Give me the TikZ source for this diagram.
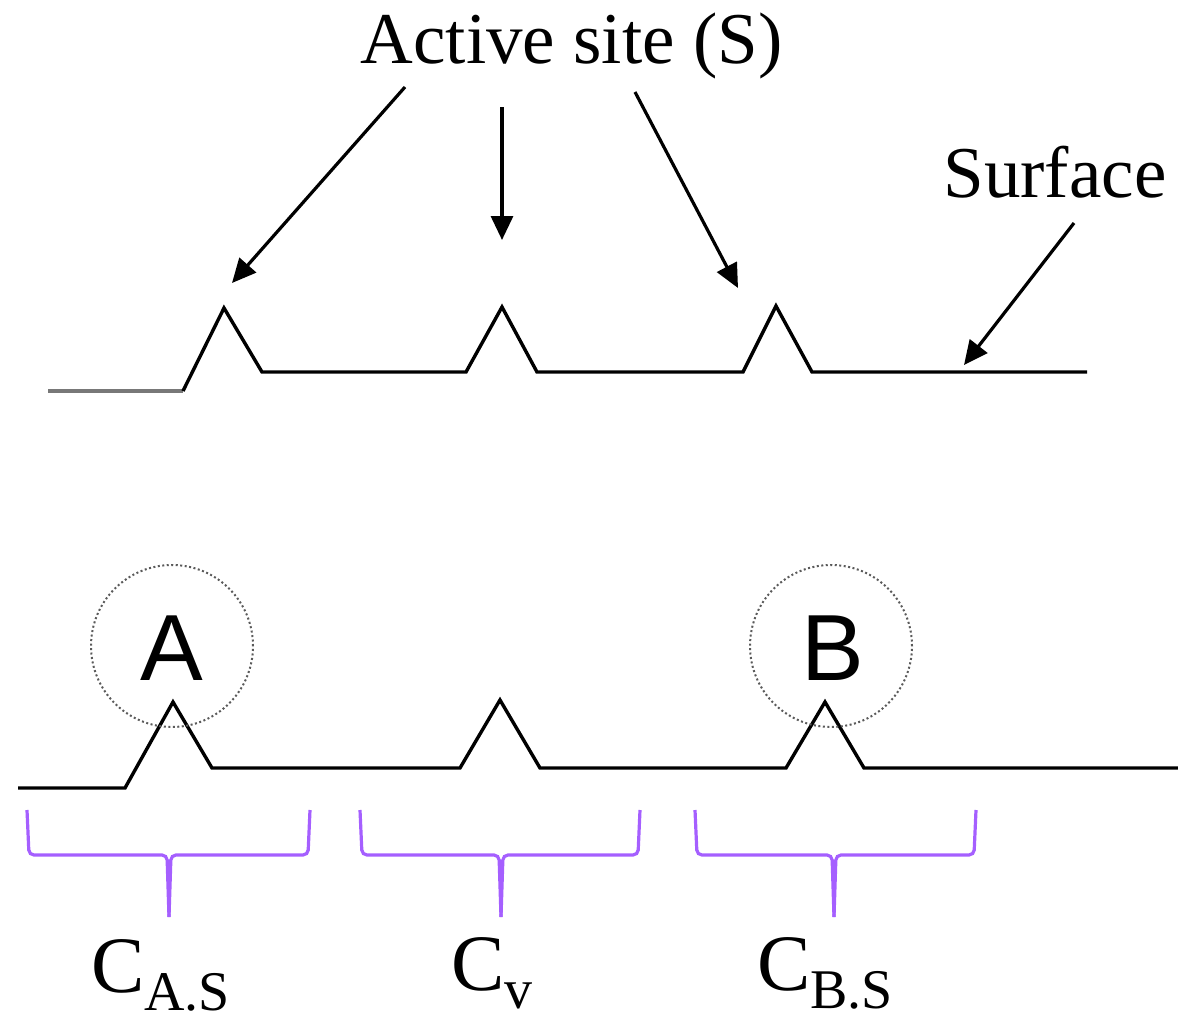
\documentclass[tikz,border=0pt]{standalone}
\usepackage{fontspec}
\setmainfont{Liberation Serif}
\newfontfamily\arialfont{Liberation Sans}
\usetikzlibrary{arrows.meta}
\definecolor{bracecol}{RGB}{165,95,255}
\definecolor{circgray}{RGB}{90,90,90}
\tikzset{
  surf/.style={line width=3.4pt, black, line join=miter},
  surfgray/.style={line width=3.4pt, color={rgb,255:red,120;green,120;blue,120}},
  pointer/.style={line width=3.2pt, -{Triangle[length=24pt,width=22pt]}},
  site/.style={draw=circgray, dash pattern=on 2pt off 2.5pt, line width=2pt, circle, minimum size=162pt, inner sep=0pt},
  letter/.style={font=\arialfont\fontsize{94}{94}\selectfont, inner sep=0pt, anchor=base},
  label/.style={font=\fontsize{73}{73}\selectfont, inner sep=0pt, anchor=base},
  clab/.style={font=\fontsize{80}{80}\selectfont, inner sep=0pt, anchor=base west},
  brace/.style={draw=bracecol, line width=3.2pt, rounded corners=5pt},
}
\newcommand{\sublab}[1]{\raisebox{-18pt}{\fontsize{56}{56}\selectfont #1}}
\begin{document}
\begin{tikzpicture}[x=1pt,y=-1pt]
\useasboundingbox (0,0) rectangle (1178,1020);
% top labels
\node[label] (act) at (571.5,63) {Active site (S)};
\node[label] (surfl) at (1055,197) {Surface};
% top surface
\draw[surfgray] (48,391) -- (183,391);
\draw[surf] (183,391) -- (224,308) -- (262,372) -- (466,372) -- (502,307) -- (537,372) -- (743,372) -- (776,306) -- (812,372) -- (1087,372);
% arrows
\coordinate (a1s) at (405,87);  \coordinate (a1e) at (232,283);
\coordinate (a2s) at (502,107); \coordinate (a2e) at (502,240);
\coordinate (a3s) at (635,92);  \coordinate (a3e) at (738,288);
\coordinate (a4s) at (1074,223);\coordinate (a4e) at (964,365);
\draw[pointer] (a1s) -- (a1e);
\draw[pointer] (a2s) -- (a2e);
\draw[pointer] (a3s) -- (a3e);
\draw[pointer] (a4s) -- (a4e);
% bottom surface
\draw[surf] (18,788) -- (125,788) -- (173,702) -- (212,768) -- (460,768) -- (500,700) -- (540,768) -- (786,768) -- (825,702) -- (864,768) -- (1178,768);
% adsorbed species
\node[site] (cA) at (172,646) {};
\node[site] (cB) at (831,646) {};
\node[letter] (lA) at (172,680) {A};
\node[letter] (lB) at (833,680) {B};
% braces
\draw[brace] (27,810) -- (29,855) -- (167,855) -- (169,917);
\draw[brace] (169,917) -- (171,855) -- (308,855) -- (310,810);
\draw[brace] (360,810) -- (362,855) -- (499,855) -- (501,917);
\draw[brace] (501,917) -- (503,855) -- (638,855) -- (640,810);
\draw[brace] (695,810) -- (697,855) -- (832,855) -- (834,917);
\draw[brace] (834,917) -- (836,855) -- (974,855) -- (976,810);
% concentration labels
\node[clab] (cas) at (91,992) {C\sublab{A.S}};
\node[clab] (cv) at (451,990) {C\sublab{v}};
\node[clab] (cbs) at (757,990) {C\sublab{B.S}};
\end{tikzpicture}
\end{document}
